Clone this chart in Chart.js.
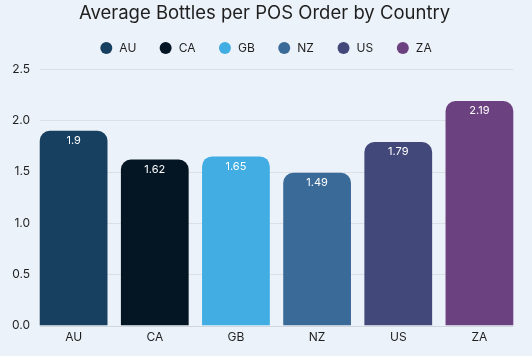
<!DOCTYPE html>
<html><head><meta charset="utf-8">
<script src="https://cdn.jsdelivr.net/npm/chart.js@4"></script>
<style>html,body{margin:0;padding:0;background:#ecf2f9;}#wrap{width:532px;height:356px;}</style>
</head><body><div id="wrap"><canvas id="c" width="532" height="356"></canvas></div>
<script>
const categories = ["AU","CA","GB","NZ","US","ZA"];
const values = [1.9, 1.62, 1.65, 1.49, 1.79, 2.19];
const colors = ["#173f5f","#041624","#41ade3","#3a6a98","#42487a","#6c4180"];
const yTicks = [0, 0.5, 1.0, 1.5, 2.0, 2.5];
const FONT = 'Inter, "Noto Sans", sans-serif';

// horizontal grid lines drawn between the outer bar edges
const gridPlugin = {
  id: 'hgrid',
  beforeDatasetsDraw(chart) {
    const ctx = chart.ctx, y = chart.scales.y;
    const metas = chart.data.datasets.map((_, i) => chart.getDatasetMeta(i));
    const first = metas[0].data[0], last = metas[metas.length - 1].data[categories.length - 1];
    const x0 = first.x - first.width / 2, x1 = last.x + last.width / 2;
    ctx.save();
    yTicks.forEach(v => {
      const py = Math.round(y.getPixelForValue(v)) + 0.5;
      ctx.strokeStyle = v === 0 ? '#cfd6de' : '#dbe0e6';
      ctx.lineWidth = 1;
      ctx.beginPath(); ctx.moveTo(x0, py); ctx.lineTo(x1, py); ctx.stroke();
    });
    ctx.restore();
  }
};

const labelPlugin = {
  id: 'vlabels',
  afterDatasetsDraw(chart) {
    const ctx = chart.ctx;
    chart.data.datasets.forEach((ds, di) => {
      const meta = chart.getDatasetMeta(di);
      meta.data.forEach((bar, i) => {
        if (ds.data[i] == null) return;
        ctx.save();
        ctx.fillStyle = '#ffffff';
        ctx.font = '11px ' + FONT;
        ctx.textAlign = 'center';
        ctx.textBaseline = 'middle';
        ctx.fillText(String(ds.data[i]), bar.x, bar.y + 10);
        ctx.restore();
      });
    });
  }
};

// legend row drawn under the title
const legendPlugin = {
  id: 'customLegend',
  afterDraw(chart) {
    const ctx = chart.ctx;
    const spacing = 59.3, r = 6, textGap = 7, cy = 48;
    ctx.save();
    ctx.font = '12px ' + FONT;
    const lastW = ctx.measureText(categories[categories.length - 1]).width;
    const total = spacing * (categories.length - 1) + 2 * r + textGap + lastW;
    const startX = chart.width / 2 - total / 2 + r;
    categories.forEach((c, i) => {
      const cx = startX + i * spacing;
      ctx.fillStyle = colors[i];
      ctx.beginPath(); ctx.arc(cx, cy, r, 0, Math.PI * 2); ctx.fill();
      ctx.fillStyle = '#1f1f1f';
      ctx.textAlign = 'left';
      ctx.textBaseline = 'middle';
      ctx.fillText(c, cx + r + textGap, cy + 0.5);
    });
    ctx.restore();
  }
};

const datasets = categories.map((c, i) => ({
  label: c,
  data: categories.map((_, j) => j === i ? values[i] : null),
  backgroundColor: colors[i],
  borderRadius: {topLeft: 10, topRight: 10, bottomLeft: 0, bottomRight: 0},
  borderSkipped: 'bottom',
  skipNull: true,
  grouped: false,
  categoryPercentage: 0.835,
  barPercentage: 1.0
}));

new Chart(document.getElementById('c'), {
  type: 'bar',
  data: { labels: categories, datasets },
  options: {
    responsive: false,
    animation: false,
    layout: { padding: { left: 9, right: 12, top: 0, bottom: 6 } },
    plugins: {
      title: { display: true, text: 'Average Bottles per POS Order by Country', color: '#1f1f1f',
        font: { family: FONT, size: 18.5, weight: 'normal' }, padding: { top: 2, bottom: 45 } },
      legend: { display: false },
      tooltip: { enabled: false }
    },
    scales: {
      x: { grid: { display: false, drawTicks: false }, border: { display: false },
        ticks: { padding: 5, color: '#1f1f1f', font: { family: FONT, size: 12 } } },
      y: { min: 0, max: 2.5, afterBuildTicks: (axis) => { axis.ticks = yTicks.map(v => ({ value: v })); },
        grid: { display: false, drawTicks: false }, border: { display: false },
        ticks: { padding: 3, color: '#1f1f1f', font: { family: FONT, size: 12 },
          callback: (v) => Number(v).toFixed(1) } }
    }
  },
  plugins: [gridPlugin, labelPlugin, legendPlugin]
});
</script></body></html>
